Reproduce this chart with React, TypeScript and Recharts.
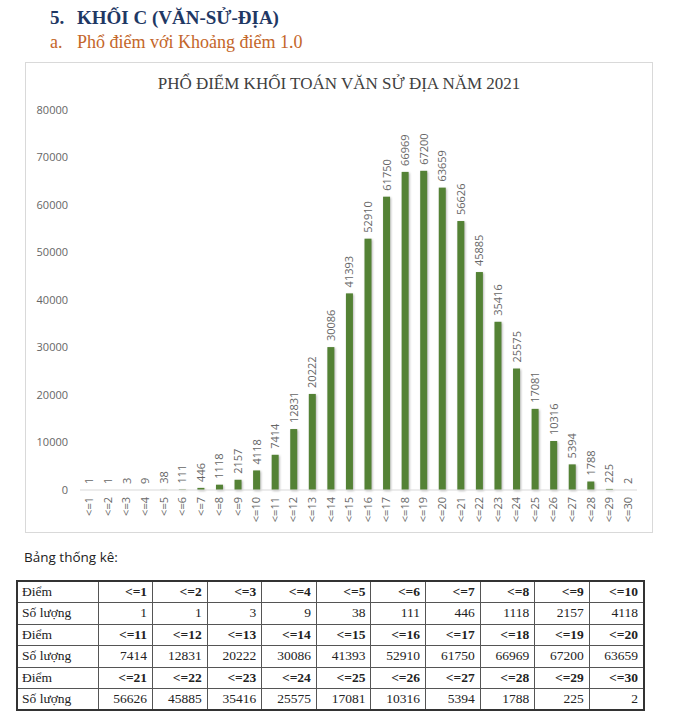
import React from "react";
import { BarChart, Bar, XAxis, YAxis, LabelList } from "recharts";

const categories = ["<=1","<=2","<=3","<=4","<=5","<=6","<=7","<=8","<=9","<=10","<=11","<=12","<=13","<=14","<=15","<=16","<=17","<=18","<=19","<=20","<=21","<=22","<=23","<=24","<=25","<=26","<=27","<=28","<=29","<=30"];
const counts = [1,1,3,9,38,111,446,1118,2157,4118,7414,12831,20222,30086,41393,52910,61750,66969,67200,63659,56626,45885,35416,25575,17081,10316,5394,1788,225,2];
const yTicks = [0,10000,20000,30000,40000,50000,60000,70000,80000];

const data = categories.map((c, i) => ({ name: c, value: counts[i] }));

const AXIS_FONT = "'Open Sans', 'Noto Sans', sans-serif";
const SERIF = "'Liberation Serif', 'DejaVu Serif', serif";
const GREY = "#666666";

const XTick = (props: any) => {
  const { x, y, payload } = props;
  return (
    <g transform={`translate(${x},${y})`}>
      <text transform="rotate(-90)" textAnchor="end" dy="0.36em" fontSize={11} fill={GREY} fontFamily={AXIS_FONT}>
        {payload.value}
      </text>
    </g>
  );
};

const TopLabel = (props: any) => {
  const { x, y, width, value } = props;
  const cx = x + width / 2;
  const cy = y - 6;
  return (
    <text transform={`translate(${cx},${cy}) rotate(-90)`} textAnchor="start" dy="0.36em" fontSize={11} fill={GREY} fontFamily={AXIS_FONT}>
      {value}
    </text>
  );
};

const ShadowBar = (props: any) => {
  const { x, y, width, height, fill } = props;
  if (height <= 0) return null;
  return <rect x={x} y={y} width={width} height={height} fill={fill} style={{ filter: "drop-shadow(1.5px 1px 1px rgba(0,0,0,0.28))" }} />;
};

const tableRows = [0, 1, 2];

const cellBase: React.CSSProperties = { border: "1px solid #555", padding: "0 5px", fontFamily: SERIF, fontSize: 13.5, color: "#222", lineHeight: "16px" };

export default function App() {
  return (
    <div style={{ position: "absolute", left: 0, top: 0, width: 679, height: 720, background: "#fff", fontFamily: SERIF }}>
      <div style={{ position: "absolute", left: 50, top: 5, lineHeight: "26px", fontSize: 19, fontWeight: "bold", color: "#1F3864", whiteSpace: "nowrap", fontFamily: SERIF }}>
        <span style={{ display: "inline-block", width: 27 }}>5.</span>KHỐI C (VĂN-SỬ-ĐỊA)
      </div>
      <div style={{ position: "absolute", left: 50, top: 30, lineHeight: "24px", fontSize: 18, color: "#C4662A", whiteSpace: "nowrap", fontFamily: SERIF }}>
        <span style={{ display: "inline-block", width: 27 }}>a.</span>Phổ điểm với Khoảng điểm 1.0
      </div>

      <div style={{ position: "absolute", left: 25, top: 62, width: 626, height: 469, border: "1px solid #d9d9d9", background: "#fff" }}>
        <div style={{ position: "absolute", left: 0, top: 11, width: 626, textAlign: "center", fontSize: 17, lineHeight: "20px", color: "#404040", fontFamily: SERIF }}>
          PHỔ ĐIỂM KHỐI TOÁN VĂN SỬ ĐỊA NĂM 2021
        </div>
        <div style={{ position: "absolute", left: 0, top: 0 }}>
          <BarChart width={626} height={469} data={data} margin={{ top: 47, right: 15, bottom: 0, left: 0 }} barSize={7}>
            <XAxis dataKey="name" interval={0} height={42} axisLine={{ stroke: "#d9d9d9" }} tickLine={false} tick={<XTick />} tickMargin={2} tickSize={5} />
            <YAxis width={54} domain={[0, 80000]} ticks={yTicks} interval={0} axisLine={false} tickLine={false} tickMargin={6}
              tick={{ fontSize: 11, fill: GREY, fontFamily: AXIS_FONT }} />
            <Bar dataKey="value" fill="#548235" isAnimationActive={false} shape={<ShadowBar />}>
              <LabelList dataKey="value" content={<TopLabel />} />
            </Bar>
          </BarChart>
        </div>
      </div>

      <div style={{ position: "absolute", left: 24, top: 547, fontFamily: "'Open Sans', sans-serif", fontSize: 13.5, lineHeight: "20px", color: "#222" }}>
        Bảng thống kê:
      </div>

      <table style={{ position: "absolute", left: 16, top: 580, width: 629, height: 129, borderCollapse: "collapse", border: "2px solid #333", tableLayout: "fixed", fontFamily: SERIF, fontSize: 13.5 }}>
        <colgroup>
          <col style={{ width: 81 }} />
          {categories.slice(0, 10).map((_, i) => <col key={i} />)}
        </colgroup>
        <tbody>
          {tableRows.map((r) => (
            <React.Fragment key={r}>
              <tr style={{ height: 21.5 }}>
                <td style={{ ...cellBase, padding: "0 4px", textAlign: "left" }}>Điểm</td>
                {categories.slice(r * 10, r * 10 + 10).map((c) => (
                  <td key={c} style={{ ...cellBase, textAlign: "right", fontWeight: "bold" }}>{c}</td>
                ))}
              </tr>
              <tr style={{ height: 21.5 }}>
                <td style={{ ...cellBase, padding: "0 4px", textAlign: "left" }}>Số lượng</td>
                {counts.slice(r * 10, r * 10 + 10).map((v, i) => (
                  <td key={i} style={{ ...cellBase, textAlign: "right" }}>{v}</td>
                ))}
              </tr>
            </React.Fragment>
          ))}
        </tbody>
      </table>
    </div>
  );
}
